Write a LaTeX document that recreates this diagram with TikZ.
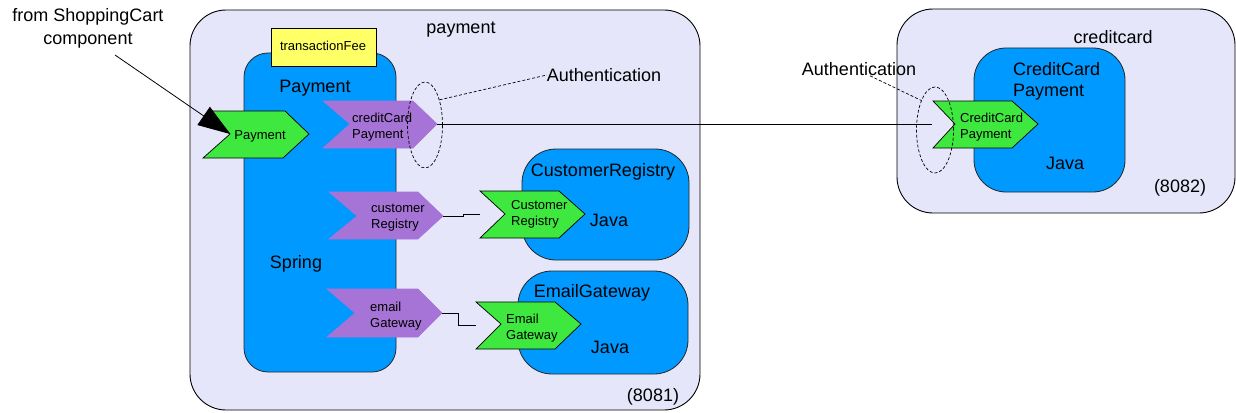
\documentclass[tikz,border=0pt]{standalone}
\usepackage{fontspec}
\setmainfont{Liberation Sans}
\usetikzlibrary{shapes.geometric,arrows.meta}
\definecolor{lav}{RGB}{230,230,250}
\definecolor{blu}{RGB}{0,153,255}
\definecolor{grn}{RGB}{62,232,62}
\definecolor{pur}{RGB}{166,115,214}
\definecolor{yel}{RGB}{255,255,102}
\tikzset{
  container/.style={fill=lav, draw=black, line width=0.9pt, rounded corners=36pt},
  comp/.style={fill=blu, draw=black!85, line width=0.8pt},
  svc/.style={fill=grn, draw=black, line width=0.7pt, line join=miter},
  ref/.style={fill=pur, draw=pur, line width=0.6pt},
  prop/.style={fill=yel, draw=black, line width=0.7pt},
  big/.style={font=\fontsize{18}{21}\selectfont, inner sep=0pt},
  small/.style={font=\fontsize{13}{16}\selectfont, inner sep=0pt, align=left},
  intent/.style={draw=black, dashed, dash pattern=on 3pt off 2pt, line width=0.7pt},
  wire/.style={draw=black, line width=0.8pt}
}
\begin{document}
\begin{tikzpicture}[x=1pt, y=-1pt]
\useasboundingbox (0,0) rectangle (1236,412);

% composites
\draw[container] (190,10) rectangle (700,410);
\draw[container] (897,9) rectangle (1235,213);

% components
\draw[comp, rounded corners=24pt] (244,53) rectangle (396,372);
\draw[comp, rounded corners=34pt] (522,149) rectangle (689,260);
\draw[comp, rounded corners=34pt] (518,271) rectangle (688,374);
\draw[comp, rounded corners=32pt] (974,48) rectangle (1125,192);

% property
\draw[prop] (271,28) rectangle (376,66);
\node[small] (fee) at (323,46) {transactionFee};

% references (purple)
\draw[ref] (323,101) -- (413,101) -- (437,124) coordinate (ccTip)
  -- (413,148) -- (323,148) -- (350,124) -- cycle;
\draw[ref] (329,192) -- (418,192) -- (443,216) coordinate (crTip)
  -- (418,239) -- (329,239) -- (357,216) -- cycle;
\draw[ref] (327,289) -- (418,289) -- (442,313) coordinate (egTip)
  -- (418,337) -- (327,337) -- (355,313) -- cycle;

% services (green)
\draw[svc] (212,111) -- (285,111) -- (309,134) -- (283,158) -- (203,158)
  -- (230,134) coordinate (payNotch) -- cycle;
\draw[svc] (480,191) coordinate (crLeft) -- (559,191) -- (585,214) -- (559,238)
  -- (480,238) -- (505,214) -- cycle;
\coordinate (crIn) at (480,214);
\draw[svc] (476,302) -- (555,302) -- (581,324) -- (555,349) -- (476,349)
  -- (501,324) -- cycle;
\coordinate (egIn) at (476,325);
\draw[svc] (933,101) -- (1012,101) -- (1038,124) -- (1012,148) -- (933,148)
  -- (955,124) -- cycle;
\coordinate (ccIn) at (932,124);

% wires
\coordinate (shopStart) at (115,55);
\draw[wire, -{Triangle[length=32pt, width=22pt]}] (shopStart) -- (payNotch);
\draw[wire] (ccTip) -- (ccIn);
\draw[wire] (crTip) -- ++(20,0) |- (crIn);
\draw[wire] (egTip) -- ++(16,0) |- (egIn);

% intents
\node[ellipse, intent, minimum width=35pt, minimum height=86pt, inner sep=0pt] (auth1) at (425,125) {};
\node[ellipse, intent, minimum width=37pt, minimum height=86pt, inner sep=0pt] (auth2) at (935,130) {};
\node[big] (authL1) at (604,75) {Authentication};
\node[big] (authL2) at (859,69) {Authentication};
\draw[intent] (auth1.60) -- (authL1.west);
\draw[intent] ([xshift=11pt]authL2.south) -- (auth2.115);

% labels
\node[big, align=center, font=\fontsize{18}{23}\selectfont] (shop) at (88,28) {from ShoppingCart\\component};
\node[big] (paymentL) at (461,30) {payment};
\node[big] (paymentC) at (315,88) {Payment};
\node[big] (spring) at (296,264) {Spring};
\node[small] (paySvc) at (260,136) {Payment};
\node[small, anchor=west] (ccRef) at (352,127) {creditCard\\Payment};
\node[small, anchor=west] (crRef) at (371,218) {customer\\Registry};
\node[small, anchor=west] (egRef) at (370,316) {email\\Gateway};
\node[big] (crComp) at (603,172) {CustomerRegistry};
\node[small, anchor=west] (crSvc) at (511,214) {Customer\\Registry};
\node[big] (crJava) at (609,220) {Java};
\node[big] (egComp) at (592,293) {EmailGateway};
\node[small, anchor=west] (egSvc) at (506,328) {Email\\Gateway};
\node[big] (egJava) at (610,347) {Java};
\node[big] (port1) at (653,397) {(8081)};
\node[big] (ccL) at (1113,37) {creditcard};
\node[big, anchor=west, align=left] (ccComp) at (1013,81) {CreditCard\\Payment};
\node[small, anchor=west] (ccSvc) at (960,127) {CreditCard\\Payment};
\node[big] (ccJava) at (1065,163) {Java};
\node[big] (port2) at (1180,188) {(8082)};
\end{tikzpicture}
\end{document}
